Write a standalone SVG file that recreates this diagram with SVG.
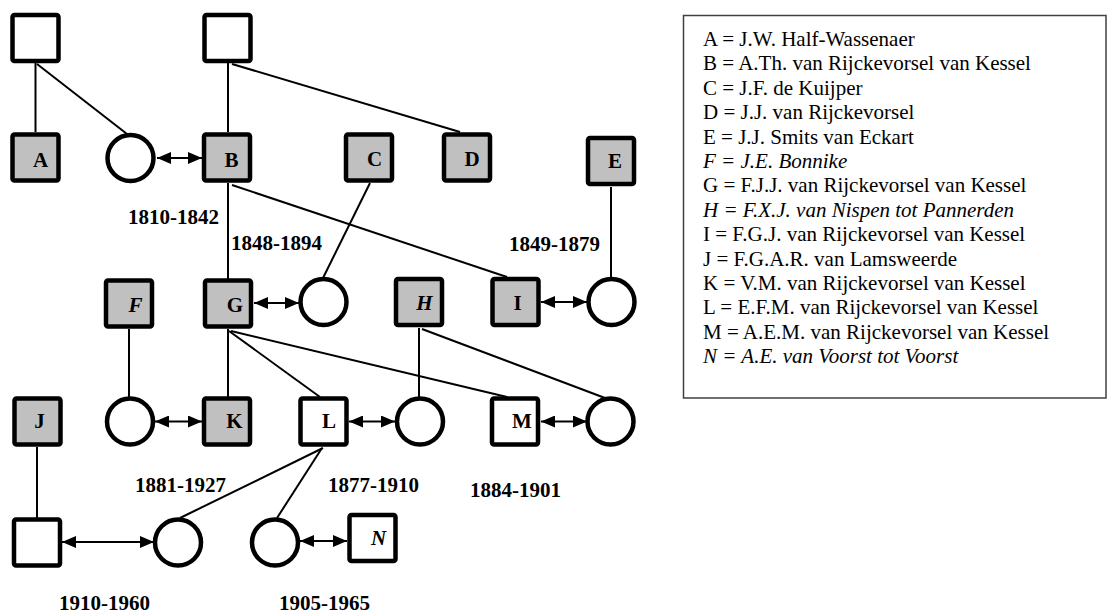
<svg xmlns="http://www.w3.org/2000/svg" width="1107" height="614" viewBox="0 0 1107 614">
<style>
.sq{fill:#ffffff;stroke:#000;stroke-width:4.5}
.sqg{fill:#c0c0c0;stroke:#000;stroke-width:4.5}
.ci{fill:#ffffff;stroke:#000;stroke-width:4.5}
.ln{stroke:#000;stroke-width:2;fill:none}
.ar{stroke:#000;stroke-width:2;fill:none;marker-start:url(#ah);marker-end:url(#ah)}
.lt{font-family:"Liberation Serif","Times New Roman",serif;font-size:21px;font-weight:bold;text-anchor:middle;fill:#000}
.it{font-style:italic}
.yr{font-family:"Liberation Serif","Times New Roman",serif;font-size:21px;font-weight:bold;fill:#000}
.lg{font-family:"Liberation Serif","Times New Roman",serif;font-size:21px;fill:#000}
</style>
<defs>
<marker id="ah" markerUnits="userSpaceOnUse" markerWidth="14" markerHeight="12" refX="14" refY="6" orient="auto-start-reverse">
<path d="M0,0 L14,6 L0,12 z" fill="#000"/>
</marker>
</defs>
<rect width="1107" height="614" fill="#ffffff"/>
<g id="connectors">
<line class="ln" x1="35.5" y1="63" x2="35.5" y2="132"/>
<line class="ln" x1="37" y1="64" x2="127" y2="134"/>
<line class="ln" x1="228" y1="63" x2="228" y2="132"/>
<line class="ln" x1="232" y1="64" x2="460" y2="132"/>
<line class="ln" x1="228" y1="183" x2="228" y2="279"/>
<line class="ln" x1="232" y1="185" x2="507" y2="277"/>
<line class="ln" x1="370" y1="183" x2="323" y2="278"/>
<line class="ln" x1="611" y1="187" x2="611" y2="278"/>
<line class="ln" x1="129" y1="329" x2="129" y2="397"/>
<line class="ln" x1="228" y1="329" x2="228" y2="397"/>
<line class="ln" x1="229" y1="331" x2="320" y2="397"/>
<line class="ln" x1="231" y1="331" x2="507" y2="397"/>
<line class="ln" x1="419" y1="328" x2="419" y2="397"/>
<line class="ln" x1="422" y1="329" x2="605" y2="398"/>
<line class="ln" x1="37" y1="447" x2="37" y2="518"/>
<line class="ln" x1="323" y1="448" x2="180" y2="518"/>
<line class="ln" x1="322" y1="448" x2="277" y2="518"/>
<line class="ar" x1="157" y1="158" x2="202" y2="158"/>
<line class="ar" x1="254" y1="303" x2="299" y2="303"/>
<line class="ar" x1="541" y1="302" x2="587" y2="302"/>
<line class="ar" x1="155" y1="421.5" x2="202" y2="421.5"/>
<line class="ar" x1="349" y1="421.5" x2="395" y2="421.5"/>
<line class="ar" x1="541" y1="421.5" x2="587" y2="421.5"/>
<line class="ar" x1="62" y1="542" x2="154" y2="542"/>
<line class="ar" x1="300" y1="541" x2="347" y2="541"/>
</g>
<g id="top1"><rect class="sq" x="12.5" y="15" width="46" height="46" rx="2"/></g>
<g id="top2"><rect class="sq" x="204.5" y="15" width="46" height="46" rx="2"/></g>
<g id="A"><rect class="sqg" x="12.5" y="134.5" width="46" height="46" rx="2"/><text class="lt" x="40.5" y="167">A</text></g>
<g id="circA"><circle class="ci" cx="130.5" cy="158" r="23"/></g>
<g id="B"><rect class="sqg" x="204" y="134.5" width="46" height="46" rx="2"/><text class="lt" x="231.5" y="167">B</text></g>
<g id="C"><rect class="sqg" x="346" y="134.5" width="46" height="46" rx="2"/><text class="lt" x="374.5" y="166">C</text></g>
<g id="D"><rect class="sqg" x="444" y="134.5" width="46" height="46" rx="2"/><text class="lt" x="472" y="166">D</text></g>
<g id="E"><rect class="sqg" x="588" y="138" width="46" height="46" rx="2"/><text class="lt" x="615" y="168">E</text></g>
<g id="F"><rect class="sqg" x="106" y="280.5" width="46" height="46" rx="2"/><text class="lt it" x="135.5" y="312">F</text></g>
<g id="G"><rect class="sqg" x="205" y="280.5" width="46" height="46" rx="2"/><text class="lt" x="235" y="312">G</text></g>
<g id="circG"><circle class="ci" cx="323.5" cy="302" r="23"/></g>
<g id="H"><rect class="sqg" x="396" y="279" width="46" height="46" rx="2"/><text class="lt it" x="424.5" y="310">H</text></g>
<g id="I"><rect class="sqg" x="492.5" y="279" width="46" height="46" rx="2"/><text class="lt" x="517.5" y="310">I</text></g>
<g id="circI"><circle class="ci" cx="611.5" cy="302" r="23"/></g>
<g id="J"><rect class="sqg" x="14.5" y="398.5" width="46" height="46" rx="2"/><text class="lt" x="39.5" y="428">J</text></g>
<g id="circF"><circle class="ci" cx="130" cy="421.5" r="23"/></g>
<g id="K"><rect class="sqg" x="204" y="398.5" width="46" height="46" rx="2"/><text class="lt" x="234.5" y="428">K</text></g>
<g id="L"><rect class="sq" x="300.5" y="398.5" width="46" height="46" rx="2"/><text class="lt" x="329" y="428">L</text></g>
<g id="circL"><circle class="ci" cx="420" cy="421.5" r="23"/></g>
<g id="M"><rect class="sq" x="492" y="398.5" width="46" height="46" rx="2"/><text class="lt" x="522" y="428">M</text></g>
<g id="circM"><circle class="ci" cx="610.5" cy="421.5" r="23"/></g>
<g id="bottomJ"><rect class="sq" x="14" y="519.5" width="46" height="46" rx="2"/></g>
<g id="circJ"><circle class="ci" cx="178" cy="542.5" r="23"/></g>
<g id="circL2"><circle class="ci" cx="275" cy="542.5" r="23"/></g>
<g id="N"><rect class="sq" x="349.5" y="515" width="46" height="46" rx="2"/><text class="lt it" x="378.5" y="545">N</text></g>
<g id="years">
<text class="yr" x="128" y="224">1810-1842</text>
<text class="yr" x="231" y="250">1848-1894</text>
<text class="yr" x="509" y="251">1849-1879</text>
<text class="yr" x="135" y="492">1881-1927</text>
<text class="yr" x="328" y="492">1877-1910</text>
<text class="yr" x="470" y="497">1884-1901</text>
<text class="yr" x="59" y="610">1910-1960</text>
<text class="yr" x="279" y="610">1905-1965</text>
</g>
<g id="legend">
<rect x="683.5" y="15.5" width="422.5" height="382.5" fill="#ffffff" stroke="#404040" stroke-width="1.5"/>
<text class="lg" x="703" y="46">A = J.W. Half-Wassenaer</text>
<text class="lg" x="703" y="70.4">B = A.Th. van Rijckevorsel van Kessel</text>
<text class="lg" x="703" y="94.8">C = J.F. de Kuijper</text>
<text class="lg" x="703" y="119.2">D = J.J. van Rijckevorsel</text>
<text class="lg" x="703" y="143.6">E = J.J. Smits van Eckart</text>
<text class="lg it" x="703" y="168">F = J.E. Bonnike</text>
<text class="lg" x="703" y="192.4">G = F.J.J. van Rijckevorsel van Kessel</text>
<text class="lg it" x="703" y="216.8">H = F.X.J. van Nispen tot Pannerden</text>
<text class="lg" x="703" y="241.2">I = F.G.J. van Rijckevorsel van Kessel</text>
<text class="lg" x="703" y="265.6">J = F.G.A.R. van Lamsweerde</text>
<text class="lg" x="703" y="290">K = V.M. van Rijckevorsel van Kessel</text>
<text class="lg" x="703" y="314.4">L = E.F.M. van Rijckevorsel van Kessel</text>
<text class="lg" x="703" y="338.8">M = A.E.M. van Rijckevorsel van Kessel</text>
<text class="lg it" x="703" y="363.2">N = A.E. van Voorst tot Voorst</text>
</g>
</svg>
